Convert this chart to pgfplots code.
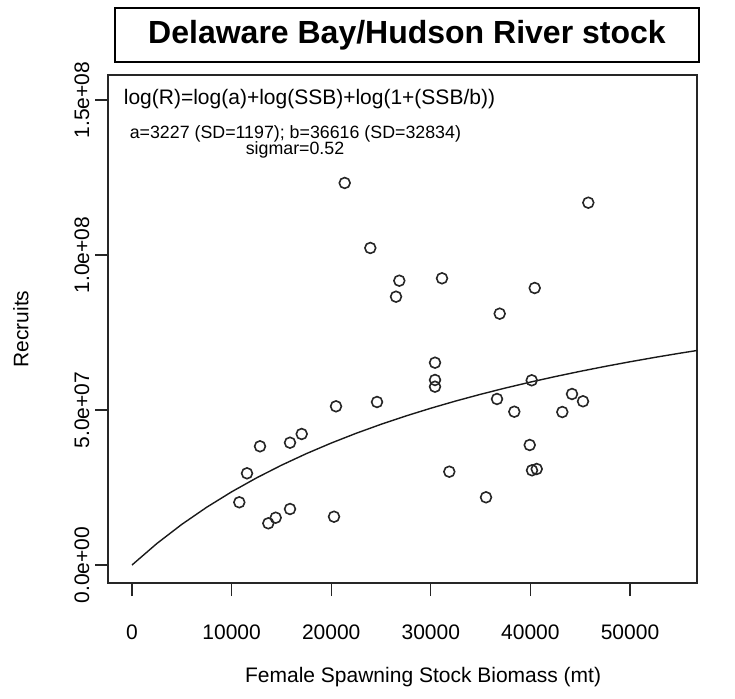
\documentclass[border=0pt]{standalone}
\usepackage{fontspec}
\setmainfont{Liberation Sans}
\usepackage{pgfplots}
\pgfplotsset{compat=1.18}

% observed stock-recruit pairs (SSB in mt, recruits)
\pgfplotstableread{
ssb rec
10773 2.023e7
11546 2.958e7
12851 3.829e7
13685 1.345e7
14427 1.526e7
15863 1.806e7
15863 3.945e7
17038 4.226e7
20482 5.119e7
24598 5.258e7
20281 1.558e7
21355 1.2323e8
23925 1.0226e8
26837 9.171e7
26506 8.655e7
31124 9.248e7
40431 8.935e7
36917 8.107e7
30421 6.526e7
30421 5.968e7
30421 5.752e7
40130 5.958e7
36646 5.355e7
38383 4.945e7
44176 5.516e7
45280 5.281e7
43202 4.935e7
39929 3.871e7
31857 3.010e7
40160 3.055e7
40632 3.097e7
35542 2.184e7
45813 1.1687e8
}\obs

% fitted curve
\pgfplotstableread{
ssb rec
0 0
2500 6.941e6
5000 1.3111e7
7500 1.8632e7
10000 2.360e7
12500 2.8095e7
15000 3.2182e7
17500 3.5913e7
20000 3.9333e7
22500 4.2480e7
25000 4.5385e7
27500 4.8074e7
30000 5.0571e7
32500 5.2897e7
35000 5.5067e7
37500 5.7097e7
40000 5.9000e7
42500 6.0788e7
45000 6.2471e7
47500 6.4057e7
50000 6.5556e7
52500 6.6973e7
55000 6.8316e7
56800 6.9230e7
}\fit

\begin{document}
\begin{tikzpicture}
\path[use as bounding box] (-108pt,-115pt) rectangle (627pt,583pt);
\begin{axis}[
    at={(0pt,0pt)}, anchor=south west,
    scale only axis,
    width=589pt, height=508pt,
    xmin=-2410, xmax=56726,
    ymin=-5.806e6, ymax=1.5806e8,
    axis line style={line width=1.1pt, black!85},
    tick align=outside,
    xtick pos=lower, ytick pos=left,
    major tick length=13pt,
    tick style={line width=1.1pt, black!85},
    xtick={0,10000,20000,30000,40000,50000},
    xticklabels={0,10000,20000,30000,40000,50000},
    ytick={0,5e7,1e8,1.5e8},
    yticklabels={0.0e+00,5.0e+07,1.0e+08,1.5e+08},
    scaled ticks=false,
    ticklabel style={font=\fontsize{21}{25}\selectfont},
    xticklabel style={anchor=base, yshift=-43.5pt},
    yticklabel style={rotate=90, anchor=base, yshift=6pt},
    xlabel={Female Spawning Stock Biomass (mt)},
    ylabel={Recruits},
    label style={font=\fontsize{21}{25}\selectfont},
    xlabel style={at={(axis description cs:0.535,0)}, anchor=base, yshift=-99.5pt},
    ylabel style={at={(axis description cs:0,0.5)}, anchor=base, yshift=79.5pt},
]
\addplot[only marks, mark=o, mark size=5.4pt, mark options={line width=1.6pt, black!85}] table[x=ssb, y=rec] {\obs};
\addplot[no marks, line width=1.4pt, black!90] table[x=ssb, y=rec] {\fit};
\node[anchor=west, font=\fontsize{21}{25}\selectfont] at (rel axis cs:0.021,0.953) {log(R)=log(a)+log(SSB)+log(1+(SSB/b))};
\node[anchor=west, font=\fontsize{17.8}{20}\selectfont] at (rel axis cs:0.031,0.884) {a=3227 (SD=1197); b=36616 (SD=32834)};
\node[font=\fontsize{17.8}{20}\selectfont] at (rel axis cs:0.3175,0.852) {sigmar=0.52};
\end{axis}
\node[draw, line width=1.2pt, minimum width=584pt, minimum height=54pt, inner sep=0pt,
      font=\fontsize{32}{36}\selectfont\bfseries] at (299pt,548pt) {Delaware Bay/Hudson River stock};
\end{tikzpicture}
\end{document}
